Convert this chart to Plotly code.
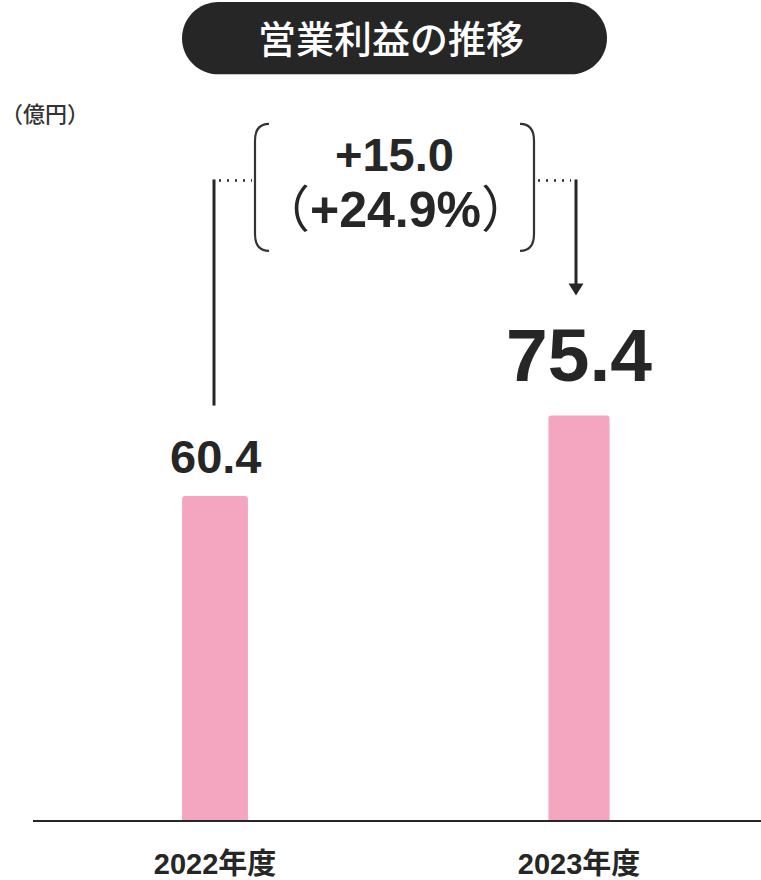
import plotly.graph_objects as go

# ---- data ----
categories = ["2022年度", "2023年度"]
values = [60.4, 75.4]
value_labels = ["60.4", "75.4"]
diff_label = "+15.0"
pct_label = "（<b>+24.9%</b>）"
title_text = "営業利益の推移"
unit_text = "（億円）"

W, H = 761, 880
# plot area in screen pixels
SL, SR, ST, SB = 33, 761, 0, 827
YMAX = (SB - ST) / 5.41

def xp(x):
    return (x - SL) / (SR - SL)

def yp(y):
    return (SB - y) / (SB - ST)

def P(x, y):
    return f"{xp(x):.6f},{yp(y):.6f}"

DARK = "#262626"
PINK = "#F4A6C1"
FONT = "Liberation Sans, Arial, Noto Sans CJK JP, sans-serif"
JFONT = "Noto Sans CJK JP, sans-serif"

fig = go.Figure()
fig.add_trace(go.Bar(
    x=categories, y=values,
    marker=dict(color=PINK, line=dict(width=0)),
    width=[0.181, 0.168],
    hoverinfo="skip",
))

shapes = []

# title pill (rounded rect via cubic beziers)
x0, x1, y0, y1 = 182, 607, 2, 75
r = (y1 - y0) / 2
k = 0.5523 * r
pill = (
    f"M {P(x0 + r, y0)} L {P(x1 - r, y0)} "
    f"C {P(x1 - r + k, y0)} {P(x1, y0 + r - k)} {P(x1, y0 + r)} "
    f"C {P(x1, y0 + r + k)} {P(x1 - r + k, y1)} {P(x1 - r, y1)} "
    f"L {P(x0 + r, y1)} "
    f"C {P(x0 + r - k, y1)} {P(x0, y0 + r + k)} {P(x0, y0 + r)} "
    f"C {P(x0, y0 + r - k)} {P(x0 + r - k, y0)} {P(x0 + r, y0)} Z"
)
shapes.append(dict(type="path", xref="paper", yref="paper", path=pill,
                   fillcolor=DARK, line=dict(width=0), layer="above"))

def line(xa, ya, xb, yb, w=3, dash="solid", color=DARK):
    return dict(type="line", xref="paper", yref="paper",
                x0=xp(xa), y0=yp(ya), x1=xp(xb), y1=yp(yb),
                line=dict(color=color, width=w, dash=dash), layer="above")

# left connector
shapes.append(line(214, 181, 214, 409, w=3))
shapes.append(line(219, 182, 252, 182, w=2.5, dash="2px,6px"))
# right connector + arrow
shapes.append(line(538, 182, 571, 182, w=2.5, dash="2px,6px"))
shapes.append(line(576, 181, 576, 290, w=3))
shapes.append(dict(type="path", xref="paper", yref="paper",
                   path=f"M {P(568.5, 286)} L {P(583.5, 286)} L {P(576, 298)} Z",
                   fillcolor=DARK, line=dict(width=0), layer="above"))

# brackets
lb = (f"M {P(269, 125)} C {P(259, 125)} {P(255, 131)} {P(255, 142)} "
      f"L {P(255, 236)} C {P(255, 247)} {P(259, 253)} {P(269, 253)}")
rb = (f"M {P(520, 125)} C {P(530, 125)} {P(534, 131)} {P(534, 142)} "
      f"L {P(534, 236)} C {P(534, 247)} {P(530, 253)} {P(520, 253)}")
for pth in (lb, rb):
    shapes.append(dict(type="path", xref="paper", yref="paper", path=pth,
                       line=dict(color="#333333", width=2.2), layer="above"))

annotations = [
    dict(text=title_text, x=xp(390.5), y=yp(37), xref="paper", yref="paper",
         showarrow=False, xanchor="center", yanchor="middle",
         font=dict(family=JFONT, size=38, color="white", weight=500)),
    dict(text=unit_text, x=xp(44.5), y=yp(113), xref="paper", yref="paper",
         showarrow=False, xanchor="center", yanchor="middle",
         font=dict(family=JFONT, size=22, color="#333333", weight=500)),
    dict(text=diff_label, x=xp(394), y=yp(155.5), xref="paper", yref="paper",
         showarrow=False, xanchor="center", yanchor="middle",
         font=dict(family=FONT, size=47, color=DARK, weight="bold")),
    dict(text=pct_label, x=xp(395.5), y=yp(211.5), xref="paper", yref="paper",
         showarrow=False, xanchor="center", yanchor="middle",
         font=dict(family=FONT, size=50, color=DARK, weight="normal")),
]

shifts = [40, 61]
sizes = [47, 75]
for c, v, lab, s, fs in zip(categories, values, value_labels, shifts, sizes):
    annotations.append(dict(text=lab, x=c, y=v, xref="x", yref="y",
                            showarrow=False, xanchor="center", yanchor="middle",
                            yshift=s,
                            font=dict(family=FONT, size=fs, color=DARK, weight="bold")))

fig.update_layout(
    width=W, height=H,
    margin=dict(l=SL, r=W - SR, t=ST, b=H - SB, pad=0),
    paper_bgcolor="white", plot_bgcolor="white",
    showlegend=False,
    barcornerradius=3,
    shapes=shapes,
    annotations=annotations,
    xaxis=dict(type="category", range=[-0.5, 1.5], showgrid=False, zeroline=False,
               showline=True, linecolor=DARK, linewidth=2,
               ticks="outside", ticklen=17, tickcolor="rgba(0,0,0,0)",
               tickfont=dict(family=FONT, size=29, color=DARK, weight="bold"),
               fixedrange=True),
    yaxis=dict(range=[0, YMAX], showgrid=False, zeroline=False, showline=False,
               showticklabels=False, ticks="", fixedrange=True),
)

fig.write_html(
    "out.html",
    config={"displayModeBar": False},
    post_script="document.body.style.margin='0';document.body.style.overflow='hidden';",
)
